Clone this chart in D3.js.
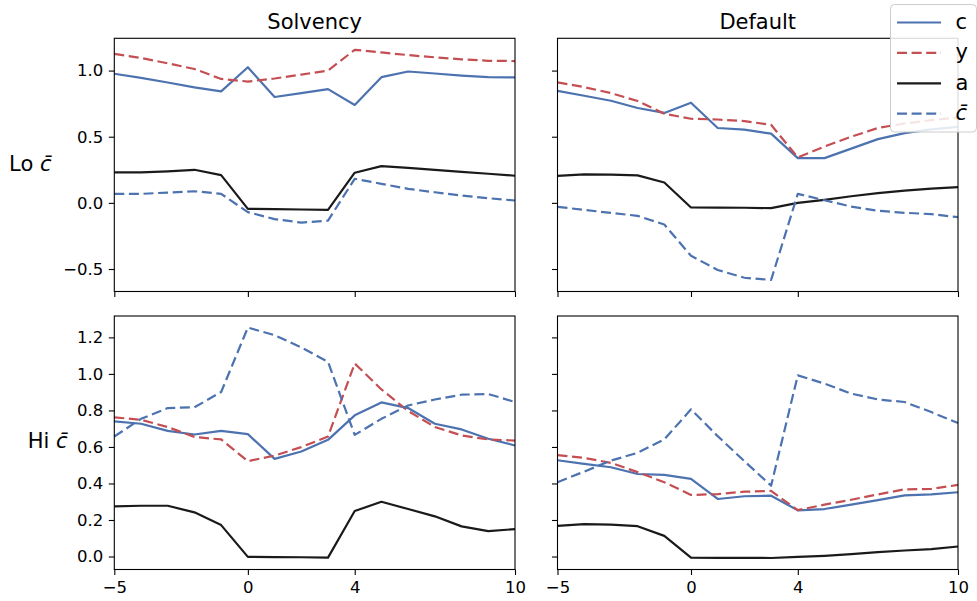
<!DOCTYPE html>
<html>
<head>
<meta charset="utf-8">
<script src="https://cdn.jsdelivr.net/npm/d3@7"></script>
<style>
  html, body { margin: 0; padding: 0; background: #fff; }
  svg { display: block; font-family: "DejaVu Sans", sans-serif; }
</style>
</head>
<body>
<svg id="chart" width="977" height="601"></svg>
<script>
// Horizon (quarters relative to the event)
const periods = [-5, -4, -3, -2, -1, 0, 1, 2, 3, 4, 5, 6, 7, 8, 9, 10];

// Solvency, low c-bar
const solvLoC    = [0.976, 0.945, 0.91, 0.873, 0.843, 1.025, 0.80, 0.83, 0.86, 0.74, 0.95, 0.993, 0.978, 0.962, 0.95, 0.948];
const solvLoY    = [1.126, 1.095, 1.055, 1.012, 0.937, 0.917, 0.94, 0.97, 1.0, 1.157, 1.137, 1.117, 1.10, 1.085, 1.074, 1.072];
const solvLoA    = [0.23, 0.23, 0.238, 0.25, 0.21, -0.045, -0.048, -0.05, -0.053, 0.228, 0.278, 0.265, 0.25, 0.235, 0.22, 0.205];
const solvLoCbar = [0.068, 0.068, 0.078, 0.088, 0.068, -0.07, -0.123, -0.149, -0.134, 0.182, 0.144, 0.106, 0.08, 0.055, 0.035, 0.018];

// Default, low c-bar
const defLoC    = [0.846, 0.81, 0.772, 0.717, 0.68, 0.757, 0.566, 0.553, 0.523, 0.338, 0.338, 0.41, 0.482, 0.527, 0.555, 0.575];
const defLoY    = [0.911, 0.875, 0.83, 0.77, 0.674, 0.636, 0.63, 0.618, 0.59, 0.343, 0.426, 0.50, 0.566, 0.60, 0.625, 0.645];
const defLoA    = [0.204, 0.215, 0.213, 0.208, 0.154, -0.035, -0.036, -0.037, -0.04, 0.0, 0.023, 0.05, 0.073, 0.093, 0.108, 0.119];
const defLoCbar = [-0.03, -0.053, -0.076, -0.098, -0.164, -0.40, -0.507, -0.566, -0.583, 0.068, 0.02, -0.028, -0.06, -0.075, -0.085, -0.108];

// Solvency, high c-bar
const solvHiC    = [0.74, 0.727, 0.688, 0.668, 0.688, 0.67, 0.535, 0.575, 0.639, 0.773, 0.844, 0.813, 0.727, 0.696, 0.645, 0.608];
const solvHiY    = [0.762, 0.749, 0.709, 0.655, 0.641, 0.522, 0.553, 0.599, 0.657, 1.057, 0.915, 0.797, 0.709, 0.663, 0.641, 0.635];
const solvHiA    = [0.275, 0.278, 0.278, 0.242, 0.172, -0.002, -0.003, -0.004, -0.006, 0.249, 0.30, 0.26, 0.22, 0.165, 0.139, 0.15];
const solvHiCbar = [0.657, 0.754, 0.813, 0.817, 0.901, 1.254, 1.212, 1.145, 1.066, 0.666, 0.754, 0.827, 0.86, 0.886, 0.89, 0.846];

// Default, high c-bar
const defHiC    = [0.527, 0.507, 0.489, 0.452, 0.447, 0.425, 0.315, 0.33, 0.333, 0.253, 0.26, 0.284, 0.309, 0.335, 0.34, 0.352];
const defHiY    = [0.555, 0.54, 0.513, 0.462, 0.407, 0.337, 0.342, 0.355, 0.359, 0.254, 0.284, 0.311, 0.34, 0.368, 0.37, 0.392];
const defHiA    = [0.168, 0.177, 0.175, 0.166, 0.113, -0.006, -0.007, -0.007, -0.008, -0.002, 0.004, 0.013, 0.024, 0.033, 0.04, 0.055];
const defHiCbar = [0.407, 0.465, 0.525, 0.568, 0.641, 0.806, 0.659, 0.522, 0.388, 0.992, 0.947, 0.892, 0.86, 0.846, 0.791, 0.731];

const columnTitles = ["Solvency", "Default"];
const rowLabels = ["Lo", "Hi"];
const xTicks = [-5, 0, 4, 10];
const yTicksTop = [-0.5, 0.0, 0.5, 1.0];
const yTicksBottom = [0.0, 0.2, 0.4, 0.6, 0.8, 1.0, 1.2];
const seriesNames = ["c", "y", "a", "c\u0304"];

// Styling for the four series
const seriesStyle = [
  { color: "#4C72B0", dash: null },
  { color: "#C44E52", dash: "10,4.6" },
  { color: "#1a1a1a", dash: null },
  { color: "#4C72B0", dash: "10,4.6" }
];

const panels = [
  [[solvLoC, solvLoY, solvLoA, solvLoCbar], [defLoC, defLoY, defLoA, defLoCbar]],
  [[solvHiC, solvHiY, solvHiA, solvHiCbar], [defHiC, defHiY, defHiA, defHiCbar]]
];

const colX = [[114.3, 515], [557.5, 958]];
const rowY = [[38.3, 291.5], [316, 569.5]];
const rowTicks = [yTicksTop, yTicksBottom];

const svg = d3.select("#chart");
const tickFont = 16.5;
const bigFont = 21;

const x = colX.map(([a, b]) => d3.scaleLinear().domain([-5, 10]).range([a, b]));

// Shared y per row, padded 5% like an autoscaled axis
const y = rowY.map(([top, bottom], r) => {
  const vals = panels[r].flat(2);
  const lo = d3.min(vals), hi = d3.max(vals);
  const pad = (hi - lo) * 0.05;
  return d3.scaleLinear().domain([lo - pad, hi + pad]).range([bottom, top]);
});

function styleAxis(g, showLabels) {
  g.select(".domain").remove();
  g.selectAll(".tick line").attr("stroke", "#000").attr("stroke-width", 1.1);
  g.selectAll(".tick text")
    .attr("fill", "#000")
    .attr("font-size", tickFont)
    .attr("font-family", "DejaVu Sans, sans-serif")
    .style("display", showLabels ? null : "none");
}

for (let r = 0; r < 2; r++) {
  for (let c = 0; c < 2; c++) {
    const g = svg.append("g");
    const xs = x[c], ys = y[r];

    // Series lines
    const line = d3.line().x((d, i) => xs(periods[i])).y(d => ys(d));
    panels[r][c].forEach((vals, k) => {
      g.append("path")
        .datum(vals)
        .attr("d", line)
        .attr("fill", "none")
        .attr("stroke", seriesStyle[k].color)
        .attr("stroke-width", 2.2)
        .attr("stroke-linejoin", "round")
        .attr("stroke-dasharray", seriesStyle[k].dash);
    });

    // Frame
    g.append("rect")
      .attr("x", colX[c][0]).attr("y", rowY[r][0])
      .attr("width", colX[c][1] - colX[c][0])
      .attr("height", rowY[r][1] - rowY[r][0])
      .attr("fill", "none").attr("stroke", "#000").attr("stroke-width", 1.1);

    // Axes
    g.append("g")
      .attr("transform", `translate(0,${rowY[r][1]})`)
      .call(d3.axisBottom(xs).tickValues(xTicks).tickFormat(d3.format("d"))
        .tickSize(5.5).tickSizeOuter(0).tickPadding(6))
      .call(ax => styleAxis(ax, r === 1));

    g.append("g")
      .attr("transform", `translate(${colX[c][0]},0)`)
      .call(d3.axisLeft(ys).tickValues(rowTicks[r]).tickFormat(d3.format(".1f"))
        .tickSize(5.5).tickSizeOuter(0).tickPadding(5.5))
      .call(ax => styleAxis(ax, c === 0));
  }
}

// Column titles
columnTitles.forEach((t, c) => {
  svg.append("text")
    .attr("x", (colX[c][0] + colX[c][1]) / 2)
    .attr("y", 28.5)
    .attr("text-anchor", "middle")
    .attr("font-size", bigFont)
    .attr("fill", "#000")
    .text(t);
});

// Row labels
const rowLabelEnd = [51.5, 67.5];
const rowLabelBase = [170.5, 448];
rowLabels.forEach((t, r) => {
  const txt = svg.append("text")
    .attr("x", rowLabelEnd[r])
    .attr("y", rowLabelBase[r])
    .attr("text-anchor", "end")
    .attr("font-size", bigFont)
    .attr("fill", "#000");
  txt.append("tspan").text(t + " ");
  txt.append("tspan").attr("font-style", "italic").text("c\u0304");
});

// Legend
const leg = svg.append("g");
leg.append("rect")
  .attr("x", 890.5).attr("y", 4.5)
  .attr("width", 86).attr("height", 127.5)
  .attr("rx", 4)
  .attr("fill", "#fff").attr("fill-opacity", 0.85)
  .attr("stroke", "#cccccc").attr("stroke-width", 1);

seriesNames.forEach((name, k) => {
  const cy = 22.5 + k * 30.4;
  leg.append("line")
    .attr("x1", 897).attr("x2", 941)
    .attr("y1", cy).attr("y2", cy)
    .attr("stroke", seriesStyle[k].color)
    .attr("stroke-width", 2.2)
    .attr("stroke-dasharray", seriesStyle[k].dash);
  leg.append("text")
    .attr("x", 955.5).attr("y", cy + 6.5)
    .attr("font-size", bigFont)
    .attr("fill", "#000")
    .attr("font-style", k === 3 ? "italic" : null)
    .text(name);
});
</script>
</body>
</html>
